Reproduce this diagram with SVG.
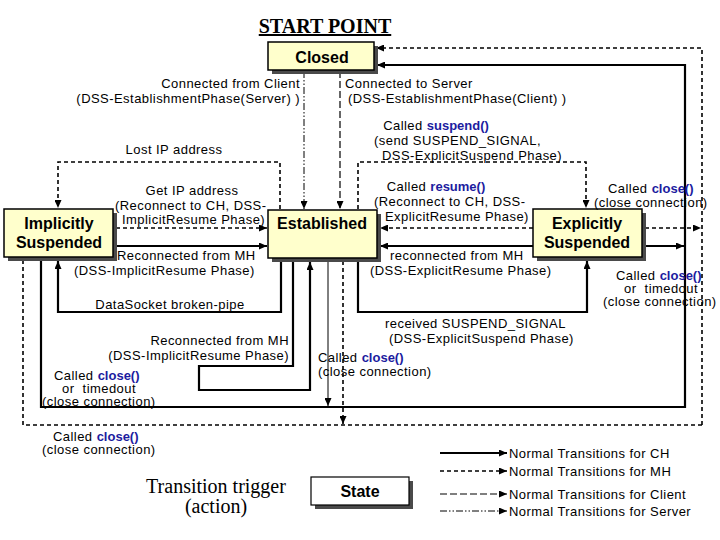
<svg xmlns="http://www.w3.org/2000/svg" width="720" height="540" viewBox="0 0 720 540">
<style>
.t{font-family:"Liberation Sans",Arial,sans-serif;font-size:13px;letter-spacing:0.45px;fill:#000}
.k{font-weight:bold;fill:#1c1ca0;letter-spacing:0}
.st{font-family:"Liberation Sans",Arial,sans-serif;font-weight:bold;font-size:16px;fill:#000;text-anchor:middle}
.box{fill:#ffffcc;stroke:#000;stroke-width:1.5}
.sh{fill:#4a4a4a}
.ch{stroke:#000;stroke-width:2.2;fill:none}
.mh{stroke:#000;stroke-width:1.6;stroke-dasharray:4 3;fill:none}
.cl{stroke:#000;stroke-width:1.2;stroke-dasharray:7 3;fill:none}
.sv{stroke:#000;stroke-width:1;stroke-dasharray:7 2 1.5 2 1.5 2;fill:none}
.th{stroke:#000;stroke-width:1;fill:none}
.serif{font-family:"Liberation Serif","Times New Roman",serif;fill:#000}
</style>
<defs>
<marker id="a" markerWidth="8" markerHeight="7" refX="8" refY="3.5" orient="auto" markerUnits="userSpaceOnUse">
<path d="M0,0 L8,3.5 L0,7 z" fill="#000"/>
</marker>
</defs>

<text class="serif" x="325" y="33" font-size="20" font-weight="bold" text-anchor="middle" text-decoration="underline">START POINT</text>

<g id="connectors">
<path class="sv" d="M304,71 V209" marker-end="url(#a)"/>
<path class="cl" d="M340,71 V209" marker-end="url(#a)"/>
<path class="mh" d="M702,425 V48 H376" marker-end="url(#a)"/>
<path class="ch" d="M41,260 V407 H685 V65 H377" marker-end="url(#a)"/>
<path class="mh" d="M23,260 V425 H702"/>
<path class="mh" d="M280,209 V162 H58 V208" marker-end="url(#a)"/>
<path class="mh" d="M358,209 V162 H586 V208" marker-end="url(#a)"/>
<path class="mh" d="M116,228 H267" marker-end="url(#a)"/>
<path class="ch" d="M116,246 H267" marker-end="url(#a)"/>
<path class="mh" d="M533,228 H380" marker-end="url(#a)"/>
<path class="ch" d="M533,246 H380" marker-end="url(#a)"/>
<path class="mh" d="M645,228 H701" marker-end="url(#a)"/>
<path class="ch" d="M645,246 H684" marker-end="url(#a)"/>
<path class="ch" d="M281,261 V312 H58 V261" marker-end="url(#a)"/>
<path class="ch" d="M293,261 V366 H199 V390 H310 V262" marker-end="url(#a)"/>
<path class="ch" d="M358,261 V312 H587 V261" marker-end="url(#a)"/>
<path class="th" d="M328,261 V406" marker-end="url(#a)"/>
<path class="mh" d="M343,261 V424" marker-end="url(#a)"/>
<path class="ch" d="M440,453 H507" marker-end="url(#a)"/>
<path class="mh" d="M440,471 H507" marker-end="url(#a)"/>
<path class="cl" d="M440,494 H507" stroke-width="2" marker-end="url(#a)"/>
<path class="sv" d="M440,511 H507" marker-end="url(#a)"/>
</g>

<g id="closed">
<rect class="sh" x="272" y="46" width="106" height="28"/>
<rect class="box" x="268" y="42" width="106" height="28"/>
<text class="st" x="322" y="63" font-size="18">Closed</text>
</g>
<g id="established">
<rect class="sh" x="272" y="214" width="109" height="48"/>
<rect class="box" x="268" y="210" width="109" height="48"/>
<text class="st" x="322" y="229">Established</text>
</g>
<g id="implicitly-suspended">
<rect class="sh" x="8" y="213" width="109" height="48"/>
<rect class="box" x="4" y="209" width="109" height="48"/>
<text class="st" x="59" y="229">Implicitly</text>
<text class="st" x="59" y="248">Suspended</text>
</g>
<g id="explicitly-suspended">
<rect class="sh" x="537" y="213" width="109" height="48"/>
<rect class="box" x="533" y="209" width="109" height="48"/>
<text class="st" x="587" y="229">Explicitly</text>
<text class="st" x="587" y="248">Suspended</text>
</g>
<g id="legend-state">
<rect class="sh" x="315" y="481" width="98" height="28"/>
<rect x="311" y="477" width="98" height="28" fill="#fff" stroke="#000" stroke-width="1.2"/>
<text class="st" x="360" y="497" font-size="17">State</text>
</g>

<g id="labels">
<text class="t" x="300" y="88" text-anchor="end">Connected from Client</text>
<text class="t" x="300" y="103" text-anchor="end">(DSS-EstablishmentPhase(Server) )</text>
<text class="t" x="345" y="88">Connected to Server</text>
<text class="t" x="348" y="103">(DSS-EstablishmentPhase(Client) )</text>
<text class="t" x="436" y="130" text-anchor="middle">Called <tspan class="k">suspend()</tspan></text>
<text class="t" x="374" y="145">(send SUSPEND_SIGNAL,</text>
<text class="t" x="382" y="160">DSS-ExplicitSuspend Phase)</text>
<text class="t" x="174" y="154" text-anchor="middle">Lost IP address</text>
<text class="t" x="192" y="195" text-anchor="middle">Get IP address</text>
<text class="t" x="115" y="210">(Reconnect to CH, DSS-</text>
<text class="t" x="122" y="224">ImplicitResume Phase)</text>
<text class="t" x="117" y="260">Reconnected from MH</text>
<text class="t" x="74" y="275">(DSS-ImplicitResume Phase)</text>
<text class="t" x="170" y="309" text-anchor="middle">DataSocket broken-pipe</text>
<text class="t" x="289" y="345" text-anchor="end">Reconnected from MH</text>
<text class="t" x="289" y="360" text-anchor="end">(DSS-ImplicitResume Phase)</text>
<text class="t" x="54" y="380">Called <tspan class="k">close()</tspan></text>
<text class="t" x="62" y="393" xml:space="preserve">or  timedout</text>
<text class="t" x="42" y="406">(close connection)</text>
<text class="t" x="53" y="441">Called <tspan class="k">close()</tspan></text>
<text class="t" x="42" y="454">(close connection)</text>
<text class="t" x="436" y="191" text-anchor="middle">Called <tspan class="k">resume()</tspan></text>
<text class="t" x="374" y="206">(Reconnect to CH, DSS-</text>
<text class="t" x="385" y="221">ExplicitResume Phase)</text>
<text class="t" x="390" y="260">reconnected from MH</text>
<text class="t" x="370" y="275">(DSS-ExplicitResume Phase)</text>
<text class="t" x="608" y="193">Called <tspan class="k">close()</tspan></text>
<text class="t" x="594" y="207">(close connection)</text>
<text class="t" x="616" y="280">Called <tspan class="k">close()</tspan></text>
<text class="t" x="624" y="293" xml:space="preserve">or  timedout</text>
<text class="t" x="603" y="306">(close connection)</text>
<text class="t" x="385" y="328">received SUSPEND_SIGNAL</text>
<text class="t" x="389" y="343">(DSS-ExplicitSuspend Phase)</text>
<text class="t" x="318" y="362">Called <tspan class="k">close()</tspan></text>
<text class="t" x="318" y="376">(close connection)</text>
<text class="serif" x="216" y="493" font-size="20" text-anchor="middle">Transition trigger</text>
<text class="serif" x="216" y="513" font-size="20" text-anchor="middle">(action)</text>
<text class="t" x="509" y="458">Normal Transitions for CH</text>
<text class="t" x="509" y="476">Normal Transitions for MH</text>
<text class="t" x="509" y="499">Normal Transitions for Client</text>
<text class="t" x="509" y="516">Normal Transitions for Server</text>
</g>
</svg>
